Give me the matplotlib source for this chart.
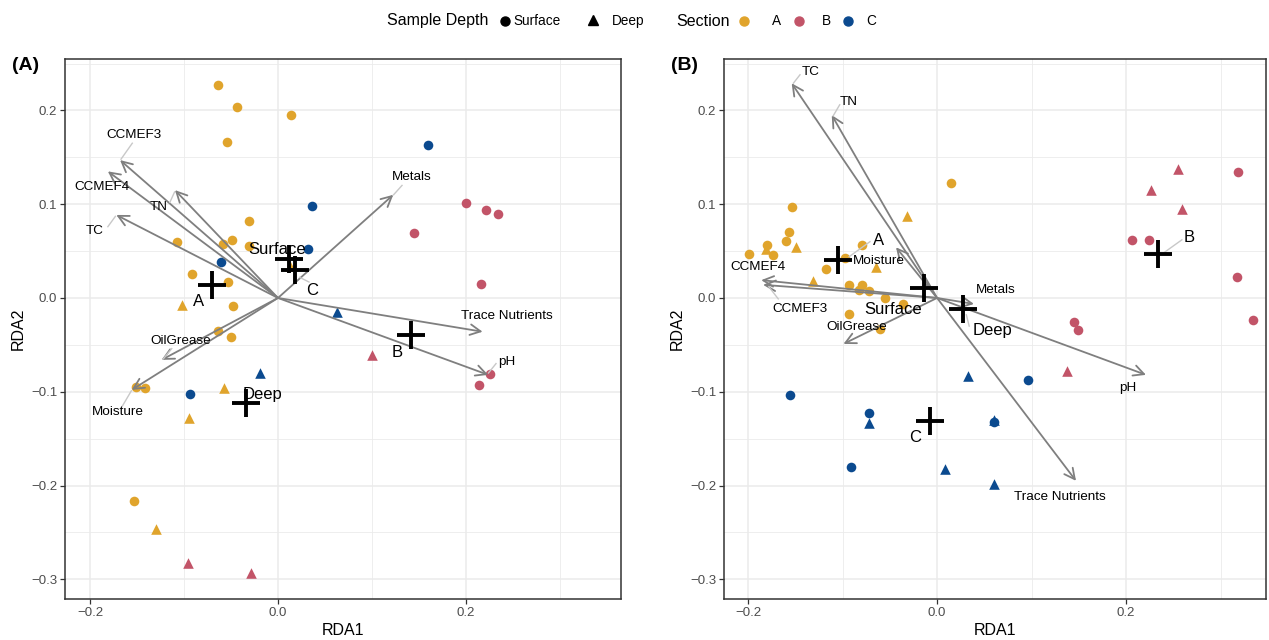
import matplotlib
matplotlib.use("Agg")
import matplotlib.pyplot as plt
from matplotlib.lines import Line2D

plt.rcParams['font.family'] = ['Liberation Sans', 'DejaVu Sans']

# ---------------- DATA ----------------
section_colors = {'A': '#E0A42C', 'B': '#C25468', 'C': '#0B4A8F'}
depth_markers = {'Surface': 'o', 'Deep': '^'}

# Panel A samples
a_x = [-0.064, -0.044, 0.014, -0.054, -0.031, -0.049, -0.059, -0.107, -0.031, -0.091,
       -0.053, -0.0475, -0.0635, -0.050, -0.151, -0.1415, -0.153, 0.013,
       -0.1025, -0.057, -0.0947, -0.130,
       0.1596, 0.0365, -0.0603, -0.0936, 0.0316,
       0.0624, -0.019,
       0.1997, 0.221, 0.234, 0.145, 0.216, 0.2255, 0.214,
       0.0997, -0.0954, -0.029]
a_y = [0.227, 0.204, 0.195, 0.166, 0.082, 0.062, 0.058, 0.060, 0.055, 0.026,
       0.017, -0.0085, -0.035, -0.042, -0.095, -0.0956, -0.216, 0.034,
       -0.008, -0.096, -0.128, -0.246,
       0.163, 0.098, 0.038, -0.102, 0.052,
       -0.0146, -0.080,
       0.101, 0.094, 0.090, 0.069, 0.015, -0.081, -0.0928,
       -0.061, -0.283, -0.2935]
a_sec = ['A'] * 18 + ['A'] * 4 + ['C'] * 5 + ['C'] * 2 + ['B'] * 7 + ['B'] * 3
a_dep = (['Surface'] * 17 + ['Deep'] + ['Deep'] * 4 + ['Surface'] * 5 + ['Deep'] * 2
         + ['Surface'] * 7 + ['Deep'] * 3)

# Panel A centroids
a_cent_names = ['A', 'Surface', 'C', 'B', 'Deep']
a_cent_x = [-0.0705, 0.012, 0.018, 0.142, -0.034]
a_cent_y = [0.0139, 0.042, 0.030, -0.040, -0.112]

# Panel A environmental vectors
a_vec_names = ['CCMEF3', 'CCMEF4', 'TN', 'TC', 'Metals', 'Trace Nutrients', 'pH',
               'OilGrease', 'Moisture']
a_vec_x = [-0.168, -0.181, -0.1096, -0.172, 0.1227, 0.2177, 0.2237, -0.1238, -0.1556]
a_vec_y = [0.147, 0.135, 0.115, 0.0885, 0.110, -0.036, -0.082, -0.066, -0.098]

# Panel B samples
b_x = [-0.1986, -0.1795, -0.174, -0.160, -0.1566, -0.153, -0.1175, -0.0974, -0.0797,
       -0.0928, -0.0797, -0.0822, -0.0723, -0.0547, -0.0357, -0.0934, -0.0603, 0.0145,
       -0.181, -0.149, -0.1316, -0.0646, -0.0314,
       0.3189, 0.206, 0.2247, 0.3178, 0.3347, 0.145, 0.149,
       0.2547, 0.2265, 0.259, 0.138,
       -0.156, -0.0716, -0.0907, 0.096, 0.0607,
       -0.0716, 0.0324, 0.0607, 0.0088, 0.0607]
b_y = [0.0466, 0.057, 0.0458, 0.0608, 0.0707, 0.0973, 0.0306, 0.0423, 0.0565,
       0.0139, 0.0139, 0.0085, 0.0075, -0.0003, -0.0064, -0.0174, -0.0334, 0.123,
       0.052, 0.054, 0.0185, 0.0334, 0.0877,
       0.1347, 0.0618, 0.0618, 0.0227, -0.0235, -0.0256, -0.034,
       0.138, 0.115, 0.0949, -0.0775,
       -0.1034, -0.123, -0.180, -0.088, -0.132,
       -0.133, -0.083, -0.130, -0.182, -0.198]
b_sec = ['A'] * 18 + ['A'] * 5 + ['B'] * 7 + ['B'] * 4 + ['C'] * 5 + ['C'] * 5
b_dep = (['Surface'] * 18 + ['Deep'] * 5 + ['Surface'] * 7 + ['Deep'] * 4
         + ['Surface'] * 5 + ['Deep'] * 5)

# Panel B centroids
b_cent_names = ['A', 'Surface', 'Deep', 'B', 'C']
b_cent_x = [-0.105, -0.0134, 0.0275, 0.234, -0.0074]
b_cent_y = [0.0405, 0.0103, -0.0117, 0.0466, -0.131]

# Panel B environmental vectors
b_vec_names = ['TC', 'TN', 'CCMEF4', 'CCMEF3', 'Moisture', 'OilGrease', 'Metals', 'pH',
               'Trace Nutrients']
b_vec_x = [-0.1538, -0.1114, -0.186, -0.184, -0.0434, -0.099, 0.039, 0.221, 0.147]
b_vec_y = [0.2289, 0.195, 0.019, 0.014, 0.054, -0.049, -0.0064, -0.082, -0.195]

# ---------------- LAYOUT (label placements) ----------------
a_vec_lab = {'CCMEF3': (-0.153, 0.174), 'CCMEF4': (-0.187, 0.118), 'TN': (-0.1266, 0.097),
             'TC': (-0.1947, 0.0714), 'Metals': (0.1426, 0.129),
             'Trace Nutrients': (0.2436, -0.0192), 'pH': (0.2436, -0.068),
             'OilGrease': (-0.103, -0.046), 'Moisture': (-0.170, -0.1215)}
a_vec_seg = {'CCMEF3': ((-0.155, 0.165), (-0.167, 0.148)),
             'TN': ((-0.115, 0.102), (-0.110, 0.113)),
             'TC': ((-0.181, 0.076), (-0.173, 0.087)),
             'Metals': ((0.132, 0.120), (0.123, 0.110)),
             'pH': ((0.232, -0.070), (0.224, -0.080)),
             'OilGrease': ((-0.113, -0.054), (-0.122, -0.065)),
             'Moisture': ((-0.166, -0.116), (-0.156, -0.099))}
a_cent_lab = {'A': (-0.085, -0.0043), 'Surface': (-0.001, 0.052), 'C': (0.036, 0.0075),
              'B': (0.1266, -0.0586), 'Deep': (-0.016, -0.1034)}
a_cent_seg = {'C': ((0.023, 0.022), (0.033, 0.017))}

b_vec_lab = {'TC': (-0.1333, 0.241), 'TN': (-0.0931, 0.209), 'CCMEF4': (-0.1894, 0.033),
             'CCMEF3': (-0.145, -0.0117), 'Moisture': (-0.0614, 0.0394),
             'OilGrease': (-0.085, -0.0306), 'Metals': (0.0624, 0.0085),
             'pH': (0.202, -0.096), 'Trace Nutrients': (0.130, -0.212)}
b_vec_seg = {'TC': ((-0.145, 0.238), (-0.152, 0.229)),
             'TN': ((-0.103, 0.206), (-0.110, 0.194)),
             'CCMEF3': ((-0.168, -0.001), (-0.178, 0.012))}
b_cent_lab = {'A': (-0.0624, 0.0608), 'Surface': (-0.0466, -0.0128), 'Deep': (0.0582, -0.035),
              'B': (0.2667, 0.064), 'C': (-0.0233, -0.149)}
b_cent_seg = {'A': ((-0.071, 0.060), (-0.093, 0.044)),
              'Deep': ((0.031, -0.018), (0.034, -0.030)),
              'B': ((0.259, 0.062), (0.241, 0.049))}

# ---------------- PLOT ----------------
fig = plt.figure(figsize=(12.69, 6.40), dpi=100)
axA = fig.add_axes([65 / 1269, 41 / 640, 556 / 1269, 540 / 640])
axB = fig.add_axes([724 / 1269, 41 / 640, 542 / 1269, 540 / 640])

ARROW_C = '#7F7F7F'
SEG_C = '#C8C8C8'


def draw_panel(ax, xs, ys, secs, deps, cn, cx, cy, vn, vx, vy,
               vlab, vseg, clab, cseg, xlim, ylim, tag):
    ax.set_xlim(*xlim)
    ax.set_ylim(*ylim)
    ax.set_xticks([-0.2, 0.0, 0.2])
    ax.set_xticklabels(['\u22120.2', '0.0', '0.2'])
    ax.set_xticks([-0.1, 0.1, 0.3], minor=True)
    yt = [-0.3, -0.2, -0.1, 0.0, 0.1, 0.2]
    ax.set_yticks(yt)
    ax.set_yticklabels([('\u2212%.1f' % -v) if v < 0 else '%.1f' % v for v in yt])
    ax.set_yticks([-0.25, -0.15, -0.05, 0.05, 0.15, 0.25], minor=True)
    ax.grid(True, which='major', color='#EBEBEB', lw=1.1, zorder=0)
    ax.grid(True, which='minor', color='#EBEBEB', lw=0.6, zorder=0)
    ax.set_axisbelow(True)
    ax.tick_params(which='minor', length=0)
    ax.tick_params(which='major', length=3.5, width=0.9, color='#333333',
                   labelsize=9.5, labelcolor='#4D4D4D', pad=2)
    for s in ax.spines.values():
        s.set_color('#333333')
        s.set_linewidth(1.1)
    ax.set_xlabel('RDA1', fontsize=11.5, labelpad=3)
    ax.set_ylabel('RDA2', fontsize=11.5, labelpad=4)

    for sec in ['A', 'B', 'C']:
        for dep in ['Surface', 'Deep']:
            px = [x for x, s, d in zip(xs, secs, deps) if s == sec and d == dep]
            py = [y for y, s, d in zip(ys, secs, deps) if s == sec and d == dep]
            if px:
                ax.scatter(px, py, marker=depth_markers[dep], c=section_colors[sec],
                           s=48 if dep == 'Surface' else 58, linewidths=0, zorder=3)

    # vectors
    for n, x, y in zip(vn, vx, vy):
        ax.annotate('', xy=(x, y), xytext=(0, 0),
                    arrowprops=dict(arrowstyle='->,head_length=0.75,head_width=0.38',
                                    color=ARROW_C, lw=1.3, shrinkA=0, shrinkB=0),
                    zorder=4)
        if n in vseg:
            (x0, y0), (x1, y1) = vseg[n]
            ax.plot([x0, x1], [y0, y1], color=SEG_C, lw=1.0, zorder=4)
        lx, ly = vlab[n]
        ax.text(lx, ly, n, fontsize=9.7, ha='center', va='center', color='black', zorder=6)

    # centroids
    for n in cseg:
        (x0, y0), (x1, y1) = cseg[n]
        ax.plot([x0, x1], [y0, y1], color=SEG_C, lw=1.0, zorder=4)
    ax.scatter(cx, cy, marker='+', s=380, c='black', linewidths=2.8, zorder=5)
    for n in cn:
        lx, ly = clab[n]
        ax.text(lx, ly, n, fontsize=12, ha='center', va='center', color='black', zorder=6)

    fig.text(ax.get_position().x0 - 53 / 1269, 0.898, tag, fontsize=14, fontweight='bold',
             ha='left', va='center')


draw_panel(axA, a_x, a_y, a_sec, a_dep, a_cent_names, a_cent_x, a_cent_y,
           a_vec_names, a_vec_x, a_vec_y, a_vec_lab, a_vec_seg, a_cent_lab, a_cent_seg,
           (-0.2266, 0.365), (-0.321, 0.2548), '(A)')
draw_panel(axB, b_x, b_y, b_sec, b_dep, b_cent_names, b_cent_x, b_cent_y,
           b_vec_names, b_vec_x, b_vec_y, b_vec_lab, b_vec_seg, b_cent_lab, b_cent_seg,
           (-0.2254, 0.348), (-0.321, 0.2548), '(B)')

# ---------------- LEGEND ----------------
ly = 1 - 21 / 640
W = 1269
fig.text(387 / W, ly, 'Sample Depth', fontsize=11.5, ha='left', va='center')
fig.lines.append(Line2D([505 / W], [ly], marker='o', color='black', ms=6.5, ls='none',
                        transform=fig.transFigure))
fig.text(513 / W, ly, 'Surface', fontsize=9.8, ha='left', va='center')
fig.lines.append(Line2D([593 / W], [ly + 0.002], marker='^', color='black', ms=7.5, ls='none',
                        transform=fig.transFigure))
fig.text(612 / W, ly, 'Deep', fontsize=9.8, ha='left', va='center')
fig.text(676 / W, ly, 'Section', fontsize=11.5, ha='left', va='center')
for sec, cxp, txp in [('A', 744, 772), ('B', 799, 822), ('C', 848, 866)]:
    fig.lines.append(Line2D([cxp / W], [ly], marker='o', color=section_colors[sec], ms=6.5,
                            ls='none', transform=fig.transFigure))
    fig.text(txp / W, ly, sec, fontsize=9.8, ha='left', va='center')

fig.savefig('out.png', dpi=100)
